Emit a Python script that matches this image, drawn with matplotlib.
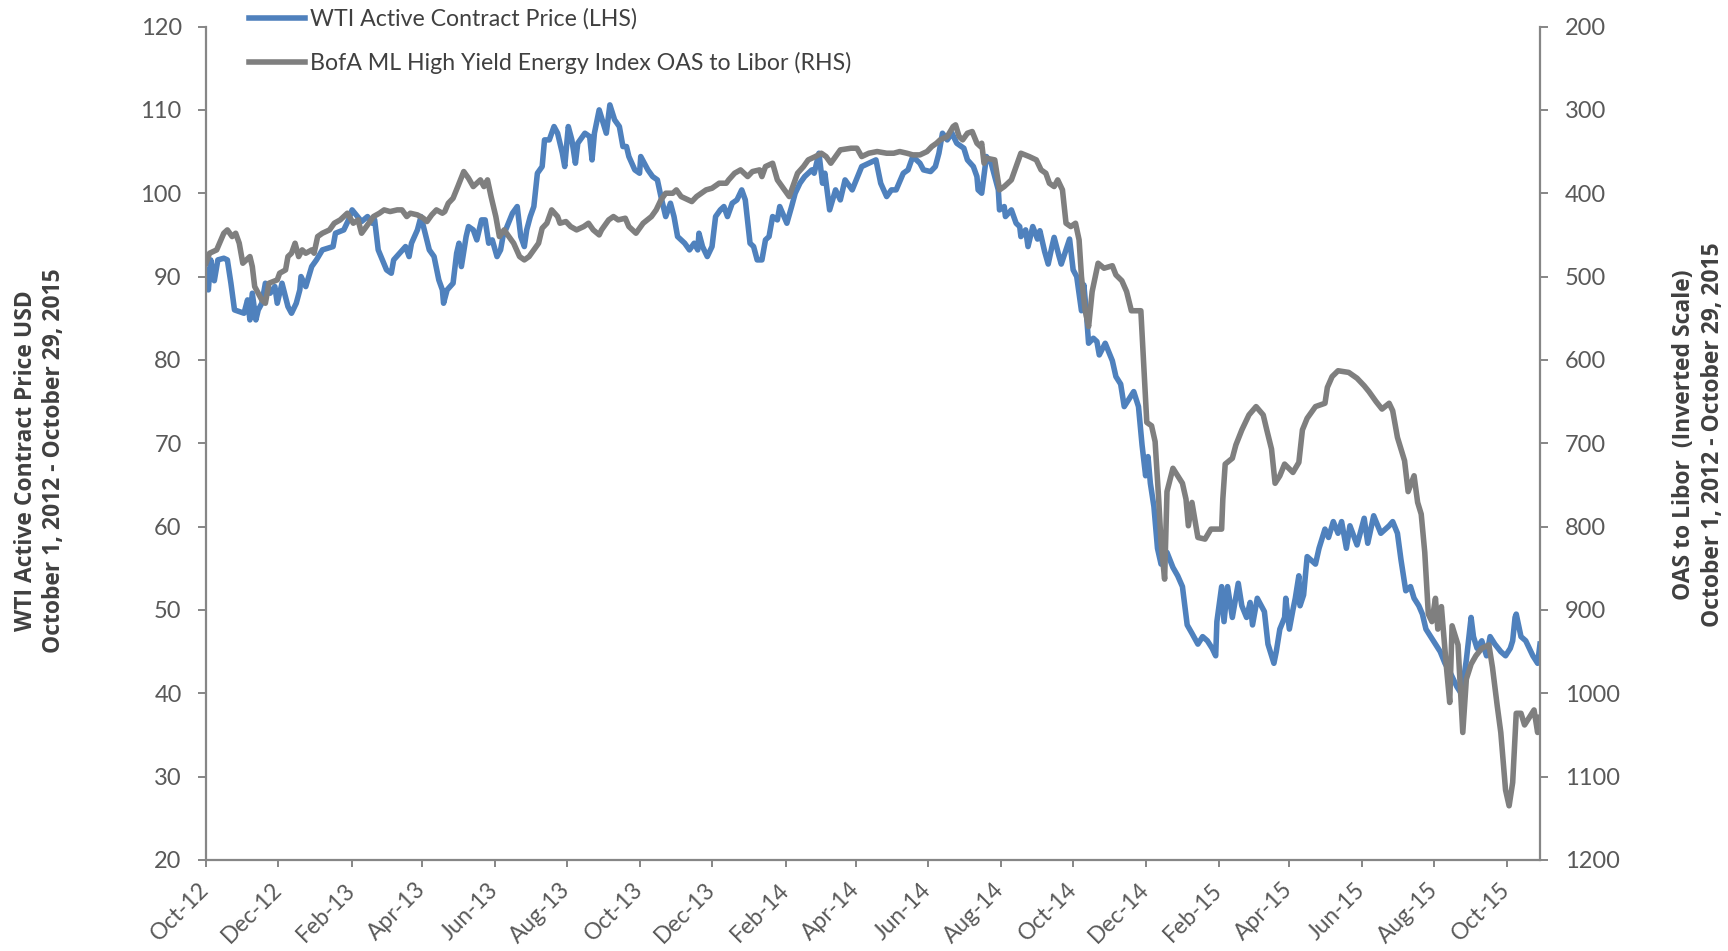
import pandas as pd
import matplotlib
matplotlib.use('Agg')
import matplotlib.pyplot as plt
import matplotlib.dates as mdates

## WTI active contract price (LHS)
wti_dates = [
    '2012-10-01', '2012-10-03', '2012-10-05', '2012-10-08', '2012-10-11', '2012-10-16', '2012-10-19',
    '2012-10-22', '2012-10-25', '2012-10-29', '2012-11-02', '2012-11-05', '2012-11-07', '2012-11-09',
    '2012-11-12', '2012-11-14', '2012-11-17', '2012-11-20', '2012-11-24', '2012-11-28', '2012-11-30',
    '2012-12-04', '2012-12-09', '2012-12-12', '2012-12-16', '2012-12-19', '2012-12-20', '2012-12-24',
    '2012-12-29', '2013-01-02', '2013-01-07', '2013-01-16', '2013-01-18', '2013-01-25', '2013-01-29',
    '2013-02-01', '2013-02-09', '2013-02-14', '2013-02-18', '2013-02-20', '2013-02-23', '2013-03-02',
    '2013-03-06', '2013-03-08', '2013-03-13', '2013-03-18', '2013-03-21', '2013-03-23', '2013-03-28',
    '2013-03-31', '2013-04-07', '2013-04-11', '2013-04-15', '2013-04-18', '2013-04-19', '2013-04-22',
    '2013-04-27', '2013-04-30', '2013-05-02', '2013-05-04', '2013-05-08', '2013-05-10', '2013-05-14',
    '2013-05-17', '2013-05-21', '2013-05-24', '2013-05-27', '2013-05-30', '2013-06-03', '2013-06-06',
    '2013-06-08', '2013-06-16', '2013-06-20', '2013-06-23', '2013-06-26', '2013-06-28', '2013-07-01',
    '2013-07-04', '2013-07-07', '2013-07-11', '2013-07-13', '2013-07-17', '2013-07-21', '2013-07-24',
    '2013-07-28', '2013-07-30', '2013-08-02', '2013-08-05', '2013-08-08', '2013-08-10', '2013-08-16',
    '2013-08-20', '2013-08-22', '2013-08-24', '2013-08-28', '2013-09-03', '2013-09-06', '2013-09-10',
    '2013-09-14', '2013-09-17', '2013-09-20', '2013-09-22', '2013-09-27', '2013-10-01', '2013-10-02',
    '2013-10-08', '2013-10-12', '2013-10-16', '2013-10-19', '2013-10-23', '2013-10-27', '2013-10-30',
    '2013-11-02', '2013-11-08', '2013-11-12', '2013-11-16', '2013-11-19', '2013-11-20', '2013-11-23',
    '2013-11-27', '2013-12-01', '2013-12-04', '2013-12-08', '2013-12-11', '2013-12-14', '2013-12-18',
    '2013-12-22', '2013-12-26', '2013-12-29', '2014-01-02', '2014-01-05', '2014-01-08', '2014-01-12',
    '2014-01-15', '2014-01-18', '2014-01-21', '2014-01-25', '2014-01-27', '2014-02-02', '2014-02-06',
    '2014-02-09', '2014-02-13', '2014-02-17', '2014-02-23', '2014-02-25', '2014-03-01', '2014-03-04',
    '2014-03-06', '2014-03-10', '2014-03-15', '2014-03-19', '2014-03-23', '2014-03-29', '2014-04-06',
    '2014-04-18', '2014-04-22', '2014-04-27', '2014-05-01', '2014-05-05', '2014-05-11', '2014-05-15',
    '2014-05-19', '2014-05-25', '2014-05-28', '2014-06-03', '2014-06-07', '2014-06-10', '2014-06-13',
    '2014-06-17', '2014-06-21', '2014-06-25', '2014-07-01', '2014-07-04', '2014-07-09', '2014-07-12',
    '2014-07-13', '2014-07-16', '2014-07-20', '2014-07-24', '2014-07-27', '2014-07-30', '2014-07-31',
    '2014-08-04', '2014-08-05', '2014-08-10', '2014-08-14', '2014-08-17', '2014-08-18', '2014-08-22',
    '2014-08-24', '2014-08-28', '2014-09-01', '2014-09-03', '2014-09-07', '2014-09-10', '2014-09-13',
    '2014-09-15', '2014-09-19', '2014-09-21', '2014-09-28', '2014-10-01', '2014-10-04', '2014-10-08',
    '2014-10-10', '2014-10-12', '2014-10-14', '2014-10-18', '2014-10-21', '2014-10-23', '2014-10-28',
    '2014-11-03', '2014-11-06', '2014-11-10', '2014-11-13', '2014-11-17', '2014-11-21', '2014-11-25',
    '2014-11-28', '2014-12-01', '2014-12-03', '2014-12-05', '2014-12-08', '2014-12-11', '2014-12-14',
    '2014-12-19', '2014-12-24', '2014-12-28', '2015-01-01', '2015-01-05', '2015-01-09', '2015-01-14',
    '2015-01-18', '2015-01-22', '2015-01-26', '2015-01-29', '2015-01-30', '2015-02-03', '2015-02-05',
    '2015-02-08', '2015-02-12', '2015-02-17', '2015-02-20', '2015-02-24', '2015-02-27', '2015-03-01',
    '2015-03-05', '2015-03-11', '2015-03-14', '2015-03-19', '2015-03-21', '2015-03-24', '2015-03-28',
    '2015-03-29', '2015-04-01', '2015-04-04', '2015-04-06', '2015-04-09', '2015-04-10', '2015-04-13',
    '2015-04-16', '2015-04-23', '2015-04-26', '2015-05-01', '2015-05-04', '2015-05-08', '2015-05-12',
    '2015-05-15', '2015-05-19', '2015-05-22', '2015-05-28', '2015-06-03', '2015-06-06', '2015-06-11',
    '2015-06-17', '2015-06-24', '2015-06-27', '2015-07-01', '2015-07-04', '2015-07-08', '2015-07-12',
    '2015-07-15', '2015-07-19', '2015-07-22', '2015-07-25', '2015-07-29', '2015-08-02', '2015-08-06',
    '2015-08-10', '2015-08-14', '2015-08-20', '2015-08-24', '2015-08-28', '2015-09-01', '2015-09-03',
    '2015-09-06', '2015-09-10', '2015-09-14', '2015-09-17', '2015-09-21', '2015-09-26', '2015-09-30',
    '2015-10-04', '2015-10-06', '2015-10-08', '2015-10-09', '2015-10-13', '2015-10-17', '2015-10-20',
    '2015-10-23', '2015-10-27', '2015-10-29',
]
wti_price = [
    90.8, 88.4, 92.0, 89.5, 92.0, 92.2, 92.0,
    89.2, 86.0, 85.8, 85.6, 87.2, 84.8, 88.0,
    84.8, 86.0, 86.8, 89.2, 88.0, 88.8, 86.8,
    89.2, 86.4, 85.6, 86.8, 88.4, 90.0, 88.8,
    91.2, 92.0, 93.2, 93.6, 95.2, 95.6, 96.8,
    98.0, 96.6, 97.2, 96.4, 96.8, 93.2, 90.8,
    90.4, 92.0, 92.8, 93.6, 92.4, 94.0, 95.6,
    97.2, 93.2, 92.4, 89.6, 88.4, 86.8, 88.4,
    89.2, 92.8, 94.0, 91.2, 94.8, 96.0, 95.6,
    94.4, 96.8, 96.8, 94.0, 94.4, 92.4, 93.2,
    94.8, 97.6, 98.4, 94.8, 93.6, 95.6, 97.2,
    98.4, 102.4, 103.2, 106.4, 106.4, 108.0, 107.2,
    104.8, 103.2, 108.0, 106.4, 103.6, 106.0, 107.2,
    106.8, 104.0, 107.2, 110.0, 107.2, 110.6, 108.8,
    108.0, 105.6, 105.6, 104.4, 102.8, 102.4, 104.4,
    102.8, 102.0, 101.6, 99.6, 97.2, 98.8, 97.2,
    94.8, 94.0, 93.2, 94.0, 93.2, 95.2, 93.6,
    92.4, 93.6, 97.2, 98.0, 98.4, 97.2, 98.8,
    99.2, 100.4, 99.2, 94.0, 93.6, 92.0, 92.0,
    94.4, 94.8, 97.2, 96.8, 98.4, 96.4, 98.4,
    100.0, 101.2, 102.0, 102.8, 102.4, 104.8, 101.2,
    102.4, 98.0, 100.4, 99.2, 101.6, 100.4, 103.2,
    104.0, 101.2, 99.6, 100.4, 100.4, 102.4, 102.8,
    104.4, 103.6, 102.8, 102.6, 103.2, 104.8, 107.2,
    106.4, 107.2, 106.0, 105.4, 104.0, 103.2, 102.0,
    100.4, 100.0, 104.4, 103.6, 102.0, 100.4, 98.0,
    98.4, 97.2, 98.0, 96.4, 96.0, 94.8, 95.6,
    93.6, 96.0, 94.5, 95.5, 93.0, 91.5, 93.5,
    94.7, 92.5, 91.5, 94.5, 90.8, 90.0, 85.9,
    89.0, 85.9, 82.0, 82.6, 82.2, 80.6, 82.0,
    79.9, 78.0, 77.1, 74.4, 75.3, 76.2, 74.4,
    69.8, 66.1, 68.4, 65.2, 62.4, 57.4, 55.5,
    56.9, 55.1, 54.1, 52.8, 48.2, 47.2, 45.9,
    46.8, 46.3, 45.4, 44.5, 48.6, 52.8, 48.6,
    52.8, 49.1, 53.2, 50.5, 49.1, 50.9, 48.2,
    51.4, 49.8, 45.9, 43.6, 45.0, 47.7, 49.1,
    51.4, 47.7, 50.0, 51.4, 54.1, 50.5, 51.8,
    56.4, 55.5, 57.4, 59.7, 58.7, 60.6, 59.2,
    60.6, 57.4, 60.1, 57.8, 61.0, 58.0, 61.3,
    59.2, 60.1, 60.6, 59.2, 56.0, 52.3, 52.8,
    51.4, 50.5, 49.5, 47.7, 46.8, 45.9, 45.0,
    43.6, 42.6, 40.8, 39.9, 44.0, 49.1, 46.8,
    45.4, 46.3, 44.5, 46.8, 45.9, 45.0, 44.5,
    45.4, 46.3, 49.1, 49.5, 46.8, 46.3, 45.4,
    44.5, 43.6, 45.9,
]

## BofA ML HY energy index OAS to Libor, bp (RHS, inverted)
oas_dates = [
    '2012-10-01', '2012-10-04', '2012-10-10', '2012-10-16', '2012-10-19', '2012-10-23', '2012-10-26',
    '2012-10-29', '2012-11-01', '2012-11-07', '2012-11-09', '2012-11-11', '2012-11-17', '2012-11-20',
    '2012-11-23', '2012-11-30', '2012-12-02', '2012-12-07', '2012-12-09', '2012-12-12', '2012-12-15',
    '2012-12-18', '2012-12-21', '2012-12-24', '2012-12-29', '2012-12-31', '2013-01-03', '2013-01-07',
    '2013-01-13', '2013-01-17', '2013-01-22', '2013-01-25', '2013-01-28', '2013-02-02', '2013-02-06',
    '2013-02-09', '2013-02-13', '2013-02-19', '2013-02-24', '2013-02-28', '2013-03-05', '2013-03-11',
    '2013-03-15', '2013-03-19', '2013-03-22', '2013-03-28', '2013-04-02', '2013-04-05', '2013-04-09',
    '2013-04-13', '2013-04-18', '2013-04-20', '2013-04-23', '2013-04-27', '2013-05-01', '2013-05-06',
    '2013-05-10', '2013-05-14', '2013-05-20', '2013-05-23', '2013-05-26', '2013-05-29', '2013-06-02',
    '2013-06-05', '2013-06-09', '2013-06-13', '2013-06-17', '2013-06-22', '2013-06-26', '2013-06-30',
    '2013-07-04', '2013-07-08', '2013-07-11', '2013-07-15', '2013-07-19', '2013-07-24', '2013-07-26',
    '2013-07-31', '2013-08-04', '2013-08-09', '2013-08-15', '2013-08-19', '2013-08-23', '2013-08-28',
    '2013-08-30', '2013-09-05', '2013-09-09', '2013-09-13', '2013-09-19', '2013-09-22', '2013-09-28',
    '2013-10-04', '2013-10-11', '2013-10-15', '2013-10-19', '2013-10-23', '2013-10-29', '2013-11-01',
    '2013-11-05', '2013-11-11', '2013-11-14', '2013-11-18', '2013-11-26', '2013-12-01', '2013-12-07',
    '2013-12-13', '2013-12-15', '2013-12-20', '2013-12-25', '2013-12-31', '2014-01-04', '2014-01-10',
    '2014-01-12', '2014-01-15', '2014-01-21', '2014-01-25', '2014-01-29', '2014-02-04', '2014-02-06',
    '2014-02-11', '2014-02-16', '2014-02-20', '2014-02-26', '2014-03-03', '2014-03-07', '2014-03-11',
    '2014-03-15', '2014-03-19', '2014-03-28', '2014-04-02', '2014-04-06', '2014-04-12', '2014-04-19',
    '2014-04-27', '2014-05-03', '2014-05-08', '2014-05-14', '2014-05-19', '2014-05-25', '2014-05-31',
    '2014-06-04', '2014-06-08', '2014-06-11', '2014-06-17', '2014-06-22', '2014-06-24', '2014-06-27',
    '2014-06-30', '2014-07-04', '2014-07-08', '2014-07-12', '2014-07-15', '2014-07-16', '2014-07-18',
    '2014-07-20', '2014-07-27', '2014-07-31', '2014-08-04', '2014-08-10', '2014-08-14', '2014-08-18',
    '2014-08-25', '2014-08-31', '2014-09-04', '2014-09-08', '2014-09-11', '2014-09-15', '2014-09-18',
    '2014-09-22', '2014-09-25', '2014-09-29', '2014-10-03', '2014-10-06', '2014-10-08', '2014-10-11',
    '2014-10-14', '2014-10-17', '2014-10-22', '2014-10-27', '2014-11-03', '2014-11-06', '2014-11-11',
    '2014-11-15', '2014-11-19', '2014-11-27', '2014-12-02', '2014-12-06', '2014-12-09', '2014-12-12',
    '2014-12-14', '2014-12-17', '2014-12-19', '2014-12-24', '2014-12-28', '2015-01-01', '2015-01-04',
    '2015-01-06', '2015-01-09', '2015-01-14', '2015-01-20', '2015-01-25', '2015-02-03', '2015-02-04',
    '2015-02-06', '2015-02-12', '2015-02-15', '2015-02-20', '2015-02-23', '2015-02-26', '2015-03-04',
    '2015-03-10', '2015-03-13', '2015-03-17', '2015-03-20', '2015-03-24', '2015-03-28', '2015-04-04',
    '2015-04-09', '2015-04-12', '2015-04-16', '2015-04-23', '2015-05-01', '2015-05-03', '2015-05-07',
    '2015-05-12', '2015-05-21', '2015-05-28', '2015-06-03', '2015-06-07', '2015-06-13', '2015-06-18',
    '2015-06-24', '2015-06-27', '2015-07-01', '2015-07-07', '2015-07-10', '2015-07-15', '2015-07-18',
    '2015-07-21', '2015-07-24', '2015-07-27', '2015-07-30', '2015-08-02', '2015-08-04', '2015-08-07',
    '2015-08-11', '2015-08-14', '2015-08-16', '2015-08-21', '2015-08-25', '2015-08-28', '2015-09-01',
    '2015-09-05', '2015-09-10', '2015-09-16', '2015-09-19', '2015-09-23', '2015-09-26', '2015-09-30',
    '2015-10-03', '2015-10-06', '2015-10-09', '2015-10-13', '2015-10-16', '2015-10-20', '2015-10-24',
    '2015-10-27', '2015-10-29',
]
oas_spread = [
    484, 472, 468, 448, 444, 452, 448,
    460, 484, 476, 488, 512, 528, 532,
    508, 504, 496, 492, 476, 472, 460,
    476, 468, 472, 468, 472, 452, 448,
    444, 436, 432, 428, 424, 436, 432,
    448, 440, 428, 424, 420, 422, 420,
    420, 428, 424, 426, 430, 434, 426,
    420, 424, 422, 412, 406, 392, 374,
    382, 392, 384, 392, 384, 404, 428,
    452, 444, 452, 460, 476, 480, 476,
    468, 460, 442, 436, 420, 428, 436,
    434, 440, 444, 440, 436, 444, 450,
    444, 432, 428, 432, 430, 440, 448,
    436, 428, 420, 408, 400, 400, 396,
    404, 408, 410, 404, 396, 394, 388,
    388, 384, 376, 372, 380, 374, 372,
    380, 368, 364, 384, 392, 404, 396,
    376, 368, 360, 356, 352, 356, 364,
    356, 348, 346, 346, 356, 352, 350,
    352, 352, 350, 352, 354, 354, 350,
    344, 340, 336, 332, 320, 318, 332,
    336, 328, 326, 340, 344, 340, 364,
    358, 360, 396, 392, 384, 368, 352,
    356, 360, 372, 376, 388, 392, 384,
    396, 436, 440, 436, 456, 500, 540,
    560, 518, 484, 490, 487, 498, 505,
    518, 541, 541, 675, 679, 698, 767,
    820, 863, 758, 730, 739, 748, 767,
    799, 771, 813, 815, 803, 803, 767,
    725, 718, 702, 684, 675, 666, 656,
    666, 684, 707, 748, 739, 725, 735,
    723, 684, 670, 656, 652, 633, 620,
    613, 615, 622, 631, 638, 650, 659,
    652, 661, 693, 721, 758, 739, 771,
    785, 831, 905, 914, 886, 923, 896,
    965, 1011, 919, 942, 1047, 983, 965,
    955, 946, 942, 969, 1015, 1047, 1116,
    1135, 1107, 1024, 1024, 1038, 1029, 1020,
    1047, 1029,
]

plt.rcParams['font.family'] = ['Lato', 'DejaVu Sans']

blue = '#4F81BD'
grey = '#7F7F7F'
axis_col = '#868686'
text_col = '#595959'

fig = plt.figure(figsize=(17.28, 9.51), dpi=100)
ax = fig.add_axes([0.1192, 0.0957, 0.772, 0.8764])
ax2 = ax.twinx()

x1 = pd.to_datetime(wti_dates)
x2 = pd.to_datetime(oas_dates)

l1, = ax.plot(x1, wti_price, color=blue, lw=4.0, solid_joinstyle='round')
l2, = ax2.plot(x2, oas_spread, color=grey, lw=4.0, solid_joinstyle='round')

ax.set_xlim(pd.Timestamp('2012-10-01'), pd.Timestamp('2015-10-29'))
ax.set_ylim(20, 120)
ax.set_yticks(range(20, 121, 10))
ax2.set_ylim(1200, 200)
ax2.set_yticks(range(200, 1201, 100))

ax.xaxis.set_major_locator(mdates.MonthLocator(bymonth=[2, 4, 6, 8, 10, 12]))
ax.xaxis.set_major_formatter(mdates.DateFormatter('%b-%y'))

for a in (ax, ax2):
    a.spines['top'].set_visible(False)
    for s in ('left', 'right', 'bottom'):
        a.spines[s].set_color(axis_col)
        a.spines[s].set_linewidth(1.6)
    a.tick_params(axis='both', colors=axis_col, labelcolor=text_col, labelsize=17,
                  width=1.4, direction='out')
ax.spines['right'].set_visible(False)
ax2.spines['left'].set_visible(False)
ax2.spines['bottom'].set_visible(False)
ax.tick_params(axis='y', length=6, pad=11.5)
ax2.tick_params(axis='y', length=6, pad=12)
ax.tick_params(axis='x', length=5, pad=14, labelsize=16.5)

for lab in ax.get_xticklabels():
    lab.set_rotation(45)
    lab.set_ha('right')
    lab.set_va('center')
    lab.set_rotation_mode('anchor')

# axis titles
title_font = dict(family=['Open Sans', 'DejaVu Sans'], fontsize=16.5, fontweight='bold',
                  color='#404040', linespacing=1.25, multialignment='center')
fig.text(0.008, 0.516, 'WTI Active Contract Price USD\nOctober 1, 2012 - October 29, 2015',
         rotation=90, ha='left', va='center', **title_font)
fig.text(0.998, 0.543, 'OAS to Libor  (Inverted Scale)\nOctober 1, 2012 - October 29, 2015',
         rotation=90, ha='right', va='center', **title_font)

fig.legend([l1, l2], ['WTI Active Contract Price (LHS)',
                      'BofA ML High Yield Energy Index OAS to Libor (RHS)'],
           loc='upper left', bbox_to_anchor=(0.1323, 1.013), frameon=False,
           fontsize=16.7, labelcolor='#404040', handlelength=2.4,
           handletextpad=0.2, labelspacing=0.95)

fig.savefig('out.png', dpi=100)
